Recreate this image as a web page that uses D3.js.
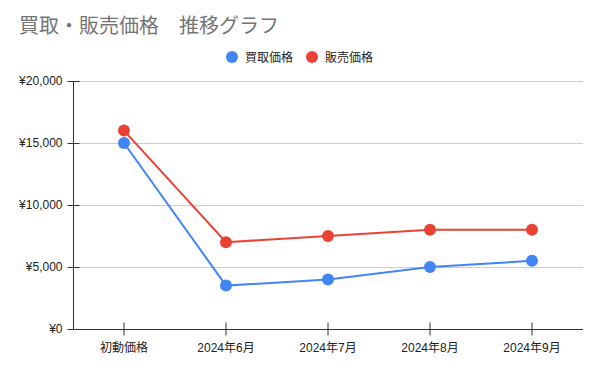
<!DOCTYPE html>
<html><head><meta charset="utf-8">
<script src="https://cdn.jsdelivr.net/npm/d3@7"></script>
<style>
html,body{margin:0;padding:0;background:#fff;}
svg{display:block;font-family:"Liberation Sans","Noto Sans CJK JP",Arial,sans-serif;}
</style></head>
<body>
<svg id="c" width="602" height="372"></svg>
<script>
const categories = ["初動価格","2024年6月","2024年7月","2024年8月","2024年9月"];
const buyPrices = [15000, 3500, 4000, 5000, 5500];
const sellPrices = [16000, 7000, 7500, 8000, 8000];
const seriesNames = ["買取価格","販売価格"];
const yTicks = [0, 5000, 10000, 15000, 20000];
const colors = ["#4285F4","#EA4335"];

const svg = d3.select("#c");
const m = {l:73, r:19, t:81, b:43};
const W = 602, H = 372;
const x = d3.scaleBand().domain(categories).range([m.l, W - m.r]);
const y = d3.scaleLinear().domain([0, 20000]).range([H - m.b, m.t]);
const fmt = v => "¥" + d3.format(",")(v);

// title
svg.append("text").attr("x",19).attr("y",33).attr("font-size",20).attr("fill","#757575")
  .attr("font-family","Noto Sans CJK JP, sans-serif")
  .text("買取・販売価格　推移グラフ");

// gridlines
svg.append("g").selectAll("line").data(yTicks.filter(d=>d>0)).join("line")
  .attr("x1", m.l).attr("x2", W - m.r)
  .attr("y1", d=>y(d)+0.5).attr("y2", d=>y(d)+0.5)
  .attr("stroke","#cccccc").attr("stroke-width",1);

// y axis
const ya = svg.append("g").attr("transform",`translate(${m.l+0.5},0)`)
  .call(d3.axisLeft(y).tickValues(yTicks).tickFormat(fmt).tickSize(6).tickPadding(5));
ya.select(".domain").attr("stroke","#333").attr("d",`M0,${y(0)}V${y(20000)}`);
ya.selectAll(".tick line").attr("stroke","#333");
ya.selectAll(".tick").append("line").attr("x1",0).attr("x2",d=>d>0?6:0).attr("stroke","#333");
ya.selectAll("text").attr("font-size",12).attr("fill","#222").attr("font-family","Liberation Sans, Arial, sans-serif");

// x axis
const xa = svg.append("g").attr("transform",`translate(0,${y(0)+0.5})`)
  .call(d3.axisBottom(x).tickSize(6).tickPadding(8));
xa.select(".domain").attr("stroke","#333").attr("d",`M${m.l},0H${W-m.r}`);
xa.selectAll(".tick line").attr("stroke","#333").attr("y1",-7);
xa.selectAll("text").attr("font-size",12).attr("fill","#222")
  .attr("font-family","Liberation Sans, Noto Sans CJK JP, sans-serif");

// series
const series = [buyPrices, sellPrices];
const line = d3.line().x((d,i)=>x(categories[i]) + x.bandwidth()/2).y(d=>y(d));
series.forEach((s,k)=>{
  svg.append("path").datum(s).attr("d",line).attr("fill","none")
    .attr("stroke",colors[k]).attr("stroke-width",2);
  svg.append("g").selectAll("circle").data(s).join("circle")
    .attr("cx",(d,i)=>x(categories[i]) + x.bandwidth()/2).attr("cy",d=>y(d))
    .attr("r",6).attr("fill",colors[k]);
});

// legend
const lg = svg.append("g");
const lx = [232, 312];
seriesNames.forEach((n,k)=>{
  lg.append("circle").attr("cx",lx[k]).attr("cy",57).attr("r",6).attr("fill",colors[k]);
  lg.append("text").attr("x",lx[k]+13).attr("y",61.5).attr("font-size",12).attr("fill","#222")
    .attr("font-family","Noto Sans CJK JP, sans-serif").text(n);
});
</script>
</body></html>
